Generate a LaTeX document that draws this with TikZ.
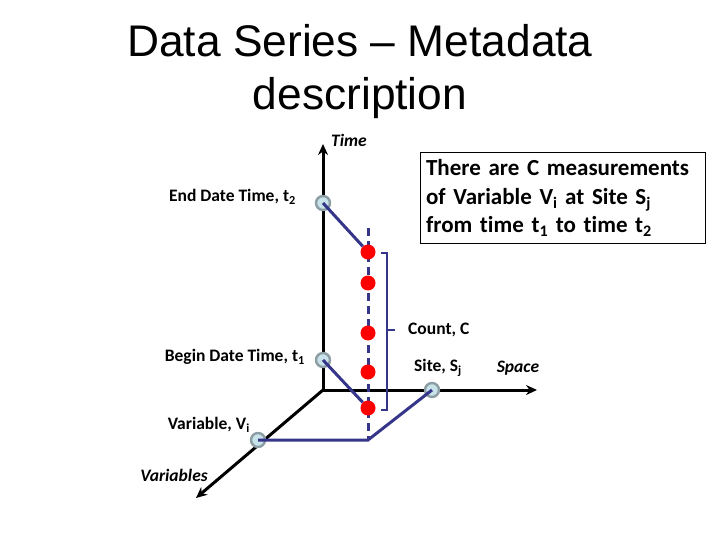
\documentclass[tikz,border=0pt]{standalone}
\usepackage{fontspec}
\setmainfont{Carlito}[Ligatures={NoCommon}]
\newfontfamily\titlefont{Liberation Sans}
\usetikzlibrary{arrows.meta,positioning}
\definecolor{linenavy}{HTML}{35358A}
\definecolor{ptfill}{HTML}{C8E4EA}
\definecolor{ptrim}{HTML}{8C9EA4}
\definecolor{dotred}{HTML}{FF0000}

\begin{document}
\begin{tikzpicture}[x=1pt,y=-1pt,
  keypt/.style={circle,draw=ptrim,fill=ptfill,line width=2.4pt,minimum size=14pt,inner sep=0pt},
  meas/.style={circle,fill=dotred,minimum size=15pt,inner sep=0pt},
  navyline/.style={linenavy,line width=3pt},
  axis/.style={line width=3pt,-{Stealth[length=11pt,width=10pt]}},
  lbl/.style={font=\fontsize{17.5}{20}\selectfont\bfseries,inner sep=1pt},
  axlbl/.style={font=\fontsize{17.5}{20}\selectfont\bfseries\itshape,inner sep=1pt}]
  \useasboundingbox (0,0) rectangle (720,540);
  % title
  \node[font=\titlefont\fontsize{44.3}{53}\selectfont,align=center] (title) at (360,72) {Data Series – Metadata\\description};
  % axes
  \coordinate (o) at (323,390);
  \coordinate (ttop) at (323,144);
  \coordinate (send) at (537,390);
  \coordinate (vend) at (196,498);
  \draw[axis] (o) -- (ttop);
  \draw[axis] (o) -- (send);
  \draw[axis] (o) -- (vend);
  \node[axlbl] (timelbl) at (349,140) {Time};
  \node[axlbl] (spacelbl) at (518,368) {Space};
  \node[axlbl] (varslbl) at (174,475) {Variables};
  % measurement column
  \coordinate (dtop) at (368,228);
  \coordinate (dbot) at (368,440);
  \draw[navyline,dash pattern=on 8pt off 5pt] (dtop) -- (dbot);
  \foreach \i/\y in {1/252,2/283,3/333,4/372,5/408}
    \node[meas] (m\i) at (368,\y) {};
  % key points
  \node[keypt] (t2) at (323,203) {};
  \node[keypt] (t1) at (323,360) {};
  \node[keypt] (vi) at (258,440) {};
  \node[keypt] (sj) at (432,390) {};
  \draw[navyline] (t2.center) -- (m1);
  \draw[navyline] (t1.center) -- (m5);
  \draw[navyline] (vi.center) -- (dbot) -- (sj.center);
  % count bracket
  \coordinate (btop) at (381,253);
  \coordinate (bbot) at (381,410);
  \coordinate (bmid) at (387,330);
  \draw[navyline,line width=2.4pt] (btop) -| (bmid) |- (bbot);
  \draw[navyline,line width=2.4pt] (bmid) -- ++(8,0);
  % labels
  \node[lbl,anchor=east] (t2lbl) at (297,197) {End Date Time, t\textsubscript{2}};
  \node[lbl,anchor=east] (t1lbl) at (306,357) {Begin Date Time, t\textsubscript{1}};
  \node[lbl,anchor=east] (vilbl) at (251,425) {Variable, V\textsubscript{i}};
  \node[lbl,anchor=west] (countlbl) at (407,330) {Count, C};
  \node[lbl] (sjlbl) at (438,368) {Site, S\textsubscript{j}};
  % note box
  \node[draw,line width=1.2pt,anchor=north west,minimum width=285pt,minimum height=91pt,
    text width=274pt,inner xsep=5pt,align=left,
    font=\fontsize{23}{28.5}\selectfont\bfseries] (note) at (420,152)
    {There are C measurements\\of Variable V\textsubscript{i} at Site S\textsubscript{j}\\from time t\textsubscript{1} to time t\textsubscript{2}};
\end{tikzpicture}
\end{document}
